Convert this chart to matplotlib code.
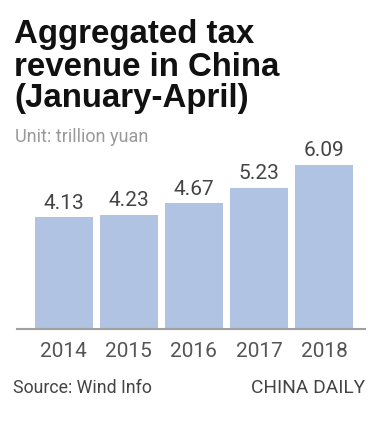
import matplotlib
matplotlib.use("Agg")
import matplotlib.pyplot as plt

years = ["2014", "2015", "2016", "2017", "2018"]
values = [4.13, 4.23, 4.67, 5.23, 6.09]
value_labels = ["4.13", "4.23", "4.67", "5.23", "6.09"]

W, H = 370, 431
fig = plt.figure(figsize=(W / 100, H / 100), dpi=100)
fig.patch.set_facecolor("white")

# axes: baseline at y=330, x from 17 to 365
x0, x1 = 17, 365
yb, ytop = 330, 330 - 27.0 * 7
ax = fig.add_axes([x0 / W, 1 - yb / H, (x1 - x0) / W, (yb - ytop) / H])
ax.set_xlim(-0.72, 4.63)
ax.set_ylim(0, 7)
bars = ax.bar(range(len(years)), values, width=0.89, color="#b0c3e3")
for spine in ["top", "right", "left"]:
    ax.spines[spine].set_visible(False)
ax.spines["bottom"].set_color("#a0a0a0")
ax.spines["bottom"].set_linewidth(1.5)
ax.set_yticks([])
ax.set_xticks(range(len(years)))
ax.set_xticklabels(years, fontsize=15, color="#555555", family="Roboto")
ax.tick_params(axis="x", length=0, pad=9)
ax.patch.set_alpha(0)

for i, (v, lab) in enumerate(zip(values, value_labels)):
    ax.text(i, v + 0.2, lab, ha="center", va="bottom", fontsize=15,
            color="#444444", family="Roboto")

title_kw = dict(fontsize=23.8, fontweight="bold", family="Liberation Sans",
                color="#111111", va="baseline")
fig.text(14 / W, 1 - 43 / H, "Aggregated tax", **title_kw)
fig.text(14 / W, 1 - 76 / H, "revenue in China", **title_kw)
fig.text(14 / W, 1 - 107 / H, "(January-April)", **title_kw)
fig.text(15 / W, 1 - 142 / H, "Unit: trillion yuan", fontsize=13,
         family="Roboto", color="#999999", va="baseline")
fig.text(13 / W, 1 - 393 / H, "Source: Wind Info", fontsize=12.8,
         family="Roboto", color="#444444", va="baseline")
fig.text(365 / W, 1 - 393 / H, "CHINA DAILY", fontsize=13.8,
         family="Roboto", color="#444444", va="baseline", ha="right")

fig.savefig("out.png", dpi=100, facecolor="white")
